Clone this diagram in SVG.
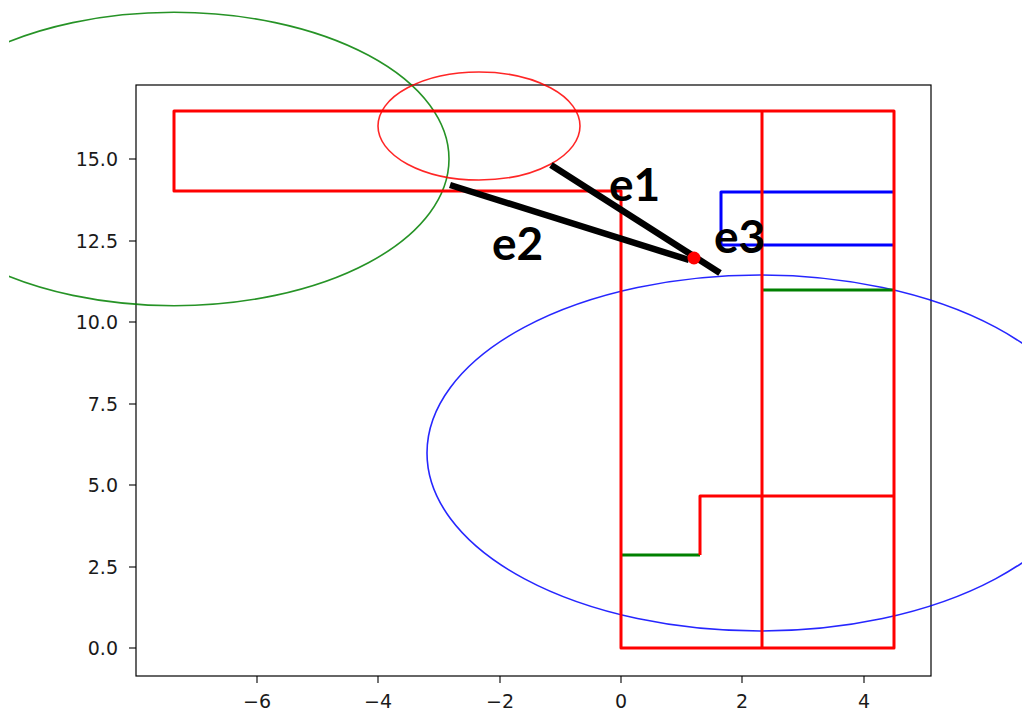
<svg xmlns="http://www.w3.org/2000/svg" width="1022" height="711" viewBox="0 0 1022 711">
<style>
.tick{stroke:#000;stroke-width:1.1}
.tl{font-family:"DejaVu Sans",sans-serif;font-size:19px;fill:#1a1a1a}
.red{stroke:#ff0000;stroke-width:3;fill:none;stroke-linejoin:round}
.blue{stroke:#0000ff;stroke-width:3;fill:none;stroke-linejoin:round}
.grn{stroke:#008000;stroke-width:3;fill:none}
.edge{stroke:#000;stroke-width:6.5;stroke-linecap:butt}
.lbl{font-family:Lato,"Open Sans",sans-serif;font-weight:bold;font-size:46px;fill:#000}
</style>
<defs>
<clipPath id="fig"><rect x="9" y="0" width="1013" height="711"/></clipPath>
</defs>
<rect width="1022" height="711" fill="#fff"/>
<g id="axes">
<rect x="136" y="85" width="795" height="591" fill="none" stroke="#000" stroke-width="1.2"/>
<g class="tick">
<line x1="257" y1="676" x2="257" y2="683"/>
<line x1="378" y1="676" x2="378" y2="683"/>
<line x1="500" y1="676" x2="500" y2="683"/>
<line x1="621" y1="676" x2="621" y2="683"/>
<line x1="742" y1="676" x2="742" y2="683"/>
<line x1="864" y1="676" x2="864" y2="683"/>
<line x1="129" y1="648" x2="136" y2="648"/>
<line x1="129" y1="567" x2="136" y2="567"/>
<line x1="129" y1="485" x2="136" y2="485"/>
<line x1="129" y1="404" x2="136" y2="404"/>
<line x1="129" y1="322" x2="136" y2="322"/>
<line x1="129" y1="241" x2="136" y2="241"/>
<line x1="129" y1="159" x2="136" y2="159"/>
</g>
<g class="tl" text-anchor="middle">
<text x="257" y="708">−6</text>
<text x="378" y="708">−4</text>
<text x="500" y="708">−2</text>
<text x="621" y="708">0</text>
<text x="742" y="708">2</text>
<text x="864" y="708">4</text>
</g>
<g class="tl" text-anchor="end">
<text x="118" y="655">0.0</text>
<text x="118" y="574">2.5</text>
<text x="118" y="492">5.0</text>
<text x="118" y="411">7.5</text>
<text x="118" y="329">10.0</text>
<text x="118" y="248">12.5</text>
<text x="118" y="166">15.0</text>
</g>
</g>
<g id="ellipses" clip-path="url(#fig)">
<ellipse id="ellipse-green" cx="174" cy="159" rx="275" ry="146.7" fill="none" stroke="#008000" stroke-opacity="0.85" stroke-width="1.6"/>
<ellipse id="ellipse-red" cx="479" cy="126" rx="101" ry="54" fill="none" stroke="#ff0000" stroke-opacity="0.85" stroke-width="1.6"/>
<ellipse id="ellipse-blue" cx="760" cy="453" rx="333" ry="178" fill="none" stroke="#0000ff" stroke-opacity="0.85" stroke-width="1.6"/>
</g>
<g id="regions">
<path class="blue" d="M893,192 H721 V245 H893"/>
<line class="grn" x1="762" y1="290" x2="893" y2="290"/>
<line class="grn" x1="621" y1="555" x2="700" y2="555"/>
<path class="red" d="M621,191 H174 V111 H894 V648 H621 Z"/>
<line class="red" x1="762" y1="111" x2="762" y2="648"/>
<path class="red" d="M700,555 V496 H894"/>
</g>
<g id="connectors">
<line class="edge" x1="551" y1="165" x2="720" y2="273"/>
<line class="edge" x1="450" y1="185" x2="689" y2="260"/>
</g>
<g id="node-point">
<circle cx="694" cy="258" r="6.5" fill="#ff0000"/>
</g>
<g id="labels" class="lbl">
<text x="609" y="201">e1</text>
<text x="492" y="260">e2</text>
<text x="714" y="253">e3</text>
</g>
</svg>
